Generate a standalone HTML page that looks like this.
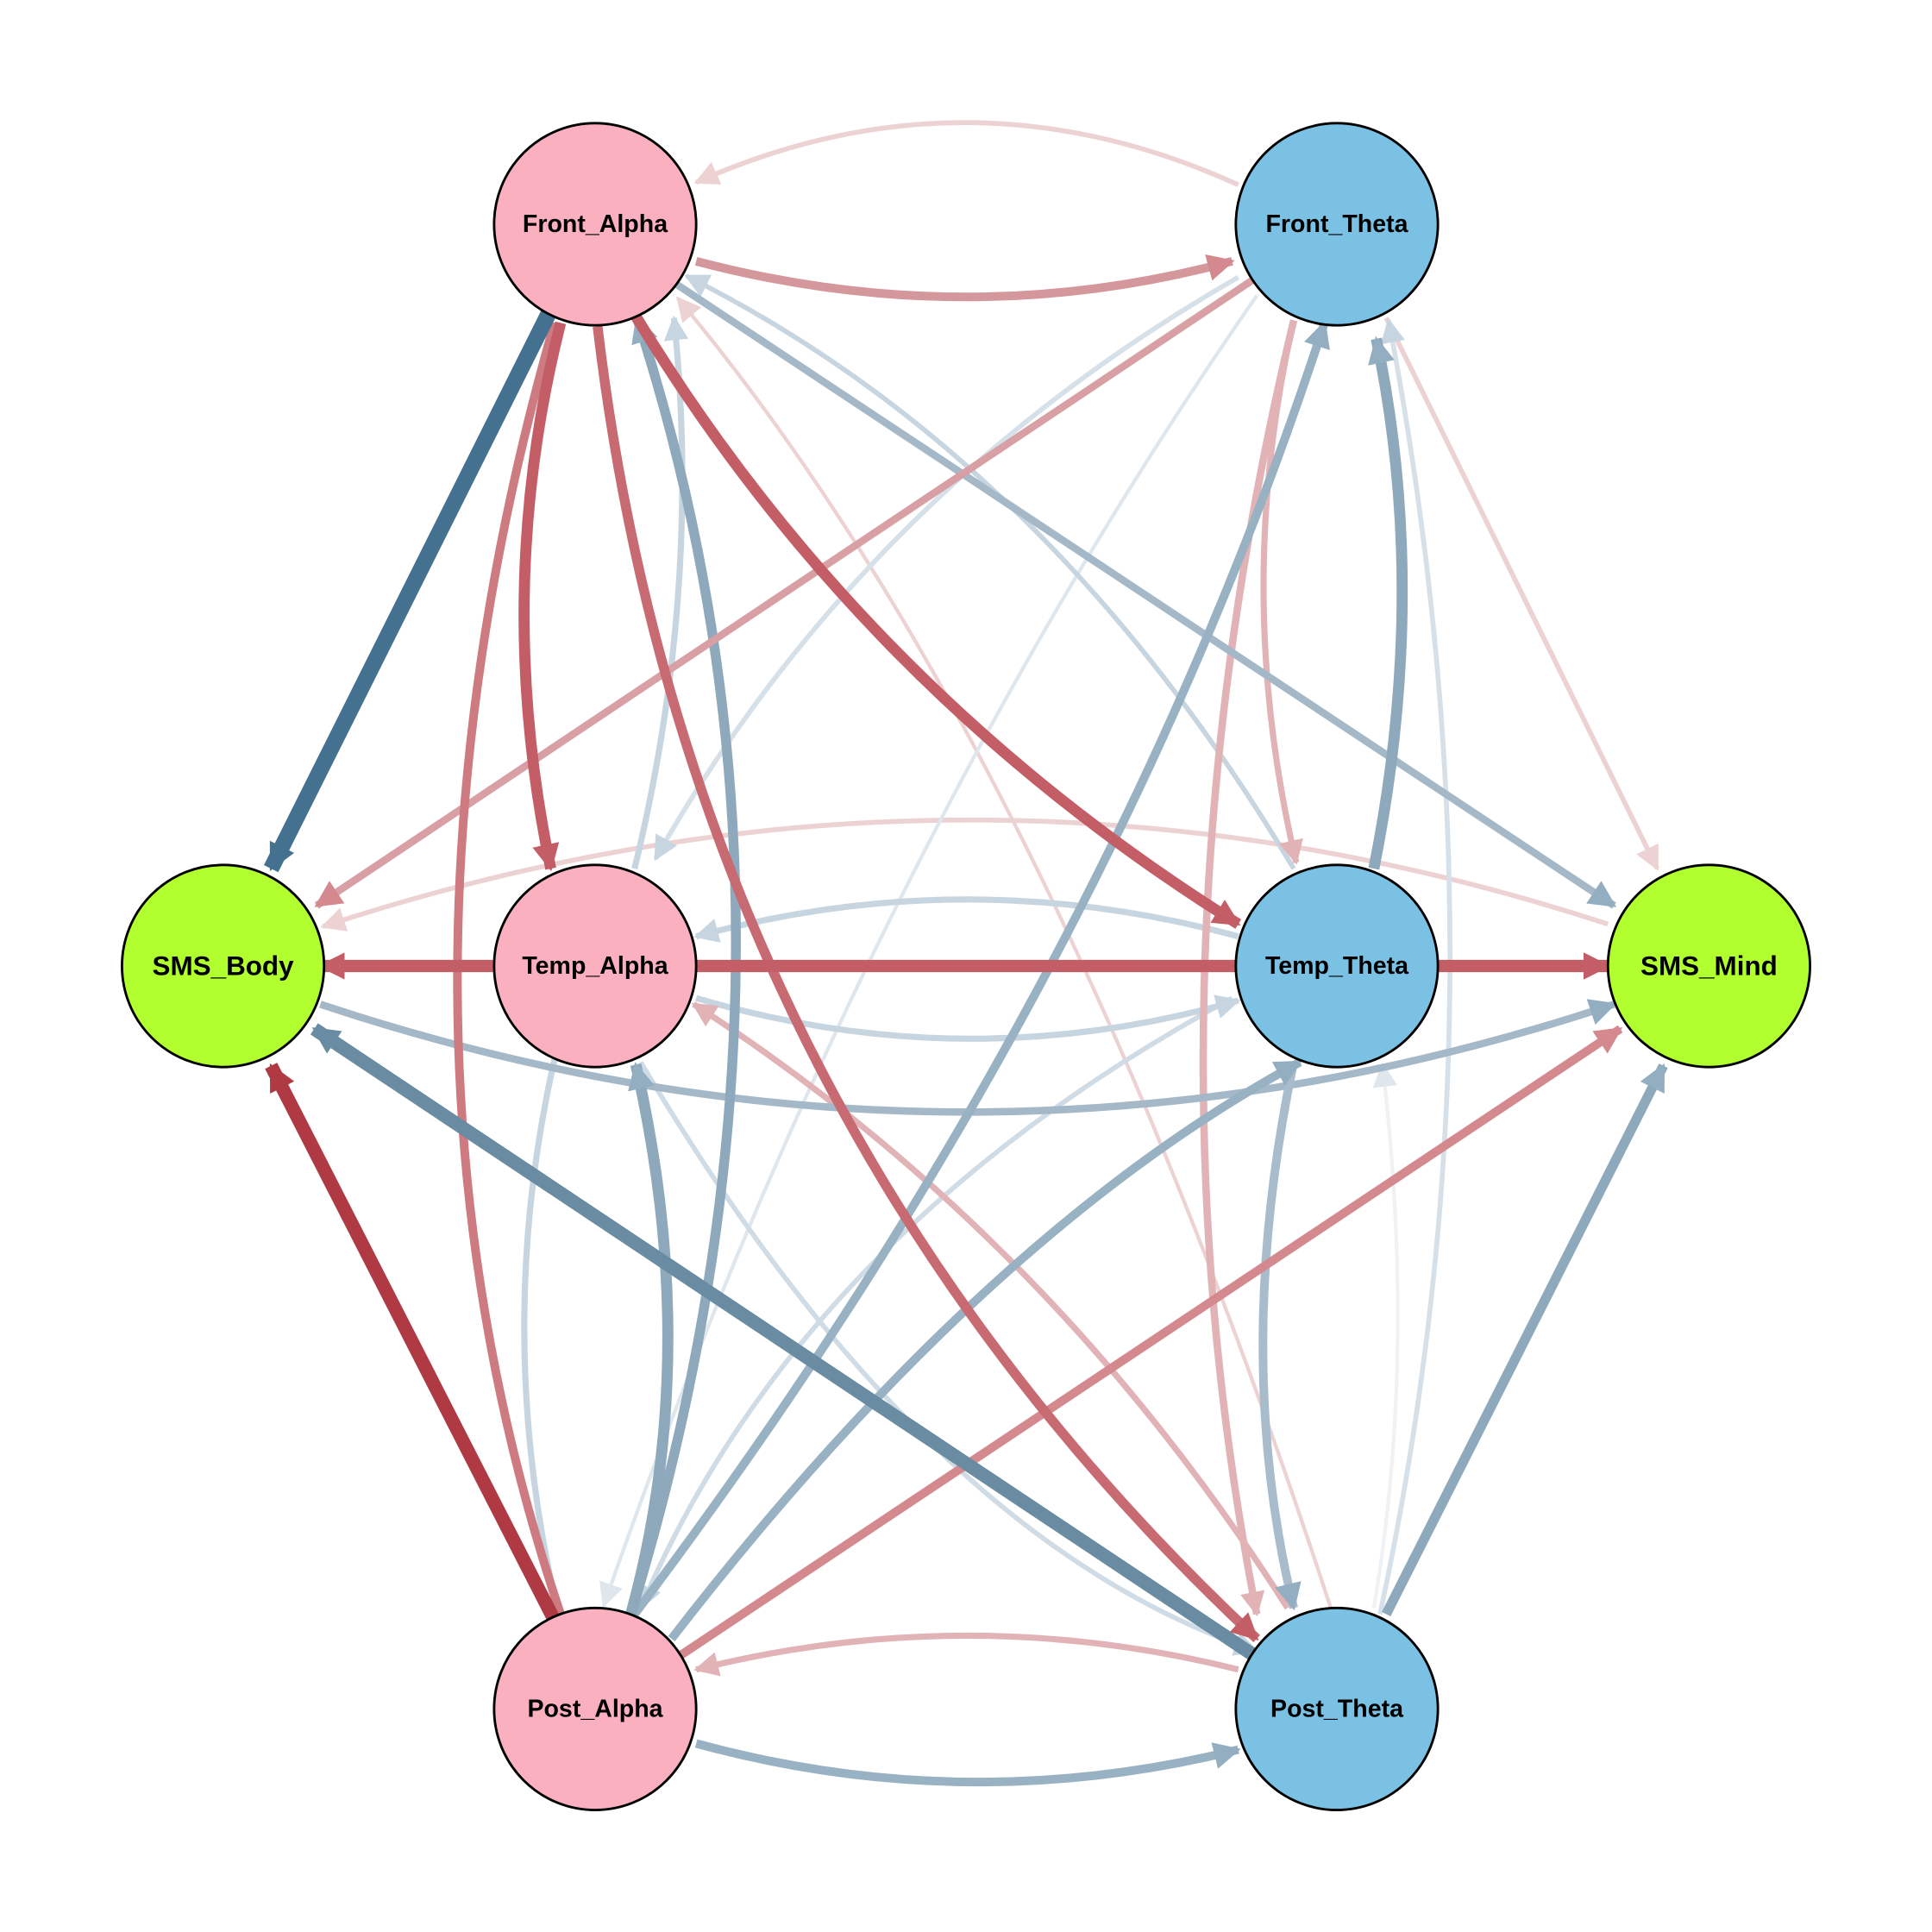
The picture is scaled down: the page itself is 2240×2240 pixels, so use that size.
<!DOCTYPE html>
<html><head><meta charset="utf-8"><style>
html,body{margin:0;padding:0;background:#fff;}
svg{display:block;}
text{font-family:"Liberation Sans",Arial,sans-serif;font-weight:bold;font-size:20px;text-anchor:middle;dominant-baseline:central;fill:#000;}
</style></head><body>
<svg width="2240" height="2240" viewBox="0 0 1568 1568" xmlns="http://www.w3.org/2000/svg">
<defs>
<marker id="m_db" viewBox="0 0 10 10" refX="9" refY="5" markerWidth="22" markerHeight="22" markerUnits="userSpaceOnUse" orient="auto"><path d="M0,0L10,5L0,10z" fill="#44718f"/></marker>
<marker id="m_mb" viewBox="0 0 10 10" refX="9" refY="5" markerWidth="22" markerHeight="22" markerUnits="userSpaceOnUse" orient="auto"><path d="M0,0L10,5L0,10z" fill="#6a8ca3"/></marker>
<marker id="m_b" viewBox="0 0 10 10" refX="9" refY="5" markerWidth="22" markerHeight="22" markerUnits="userSpaceOnUse" orient="auto"><path d="M0,0L10,5L0,10z" fill="#92aec0"/></marker>
<marker id="m_lb" viewBox="0 0 10 10" refX="9" refY="5" markerWidth="20" markerHeight="20" markerUnits="userSpaceOnUse" orient="auto"><path d="M0,0L10,5L0,10z" fill="#c6d5df"/></marker>
<marker id="m_vlb" viewBox="0 0 10 10" refX="9" refY="5" markerWidth="20" markerHeight="20" markerUnits="userSpaceOnUse" orient="auto"><path d="M0,0L10,5L0,10z" fill="#dfe7ed"/></marker>
<marker id="m_dr" viewBox="0 0 10 10" refX="9" refY="5" markerWidth="22" markerHeight="22" markerUnits="userSpaceOnUse" orient="auto"><path d="M0,0L10,5L0,10z" fill="#b03a44"/></marker>
<marker id="m_r" viewBox="0 0 10 10" refX="9" refY="5" markerWidth="22" markerHeight="22" markerUnits="userSpaceOnUse" orient="auto"><path d="M0,0L10,5L0,10z" fill="#c45e66"/></marker>
<marker id="m_p" viewBox="0 0 10 10" refX="9" refY="5" markerWidth="22" markerHeight="22" markerUnits="userSpaceOnUse" orient="auto"><path d="M0,0L10,5L0,10z" fill="#d4898f"/></marker>
<marker id="m_lp" viewBox="0 0 10 10" refX="9" refY="5" markerWidth="20" markerHeight="20" markerUnits="userSpaceOnUse" orient="auto"><path d="M0,0L10,5L0,10z" fill="#e2b3b6"/></marker>
<marker id="m_vlp" viewBox="0 0 10 10" refX="9" refY="5" markerWidth="20" markerHeight="20" markerUnits="userSpaceOnUse" orient="auto"><path d="M0,0L10,5L0,10z" fill="#edd2d3"/></marker>
</defs>
<g fill="none" stroke-linecap="butt">
<path d="M1005,150 Q785,50 565,148" stroke="#edd2d3" stroke-width="4" marker-end="url(#m_vlp)"/>
<path d="M1305,750 Q785,580 262,752" stroke="#edd2d3" stroke-width="4" marker-end="url(#m_vlp)"/>
<path d="M1080,1305 Q850,600 550,242" stroke="#edd2d3" stroke-width="3" marker-end="url(#m_vlp)"/>
<path d="M1125,258 L1345,705" stroke="#edd2d3" stroke-width="4" marker-end="url(#m_vlp)"/>
<path d="M1020,240 Q700,700 490,1303" stroke="#dfe7ed" stroke-width="3" marker-end="url(#m_vlb)"/>
<path d="M1115,1305 Q1150,1100 1122,864" stroke="#eef2f5" stroke-width="3" marker-end="url(#m_vlb)"/>
<path d="M1120,1310 Q1230,800 1127,260" stroke="#d6e0e8" stroke-width="4" marker-end="url(#m_lb)"/>
<path d="M1005,225 Q700,400 532,697" stroke="#d6e0e8" stroke-width="4" marker-end="url(#m_lb)"/>
<path d="M1000,810 Q650,1000 520,1305" stroke="#d0dce5" stroke-width="4" marker-end="url(#m_lb)"/>
<path d="M520,862 Q750,1250 1020,1340" stroke="#d0dce5" stroke-width="4" marker-end="url(#m_lb)"/>
<path d="M1050,705 Q850,370 557,224" stroke="#c6d5df" stroke-width="4" marker-end="url(#m_lb)"/>
<path d="M515,705 Q570,480 547,258" stroke="#c6d5df" stroke-width="5" marker-end="url(#m_lb)"/>
<path d="M450,860 Q400,1080 452,1305" stroke="#c6d5df" stroke-width="5"/>
<path d="M1005,760 Q785,700 565,760" stroke="#c6d5df" stroke-width="5" marker-end="url(#m_lb)"/>
<path d="M565,810 Q785,875 1005,812" stroke="#c6d5df" stroke-width="5" marker-end="url(#m_lb)"/>
<path d="M1045,1305 Q850,1000 563,815" stroke="#e2b3b6" stroke-width="5" marker-end="url(#m_lp)"/>
<path d="M1005,1355 Q785,1300 565,1355" stroke="#e2b3b6" stroke-width="5" marker-end="url(#m_lp)"/>
<path d="M1050,260 Q1000,480 1052,700" stroke="#e2b3b6" stroke-width="5" marker-end="url(#m_lp)"/>
<path d="M1050,260 Q920,800 1020,1310" stroke="#e2b3b6" stroke-width="6" marker-end="url(#m_lp)"/>
<path d="M260,815 Q785,990 1310,815" stroke="#a4b8c8" stroke-width="6" marker-end="url(#m_b)"/>
<path d="M548,230 L1310,735" stroke="#a4b8c8" stroke-width="6" marker-end="url(#m_b)"/>
<path d="M1050,862 Q1000,1100 1050,1305" stroke="#a9bccb" stroke-width="7" marker-end="url(#m_b)"/>
<path d="M565,1415 Q785,1475 1005,1420" stroke="#98b2c3" stroke-width="7" marker-end="url(#m_b)"/>
<path d="M545,1330 Q800,1000 1055,862" stroke="#98b2c3" stroke-width="7" marker-end="url(#m_b)"/>
<path d="M515,1310 Q900,800 1075,262" stroke="#98b2c3" stroke-width="7" marker-end="url(#m_b)"/>
<path d="M1125,1310 L1350,865" stroke="#8ea9bc" stroke-width="8" marker-end="url(#m_b)"/>
<path d="M1115,705 Q1160,480 1117,275" stroke="#8ea9bc" stroke-width="9" marker-end="url(#m_b)"/>
<path d="M512,1310 Q680,760 517,258" stroke="#8ea9bc" stroke-width="8" marker-end="url(#m_b)"/>
<path d="M512,1310 Q570,1100 516,864" stroke="#8ea9bc" stroke-width="9" marker-end="url(#m_b)"/>
<path d="M565,212 Q785,270 1000,212" stroke="#d4989c" stroke-width="7" marker-end="url(#m_p)"/>
<path d="M1020,225 L257,735" stroke="#d8a0a4" stroke-width="6" marker-end="url(#m_p)"/>
<path d="M550,1345 L1315,835" stroke="#d4898f" stroke-width="7" marker-end="url(#m_p)"/>
<path d="M450,262 Q290,820 455,1310" stroke="#cd7a80" stroke-width="7"/>
<path d="M1020,1345 L255,835" stroke="#6a8ca3" stroke-width="11" marker-end="url(#m_mb)"/>
<path d="M445,255 L220,705" stroke="#44718f" stroke-width="13" marker-end="url(#m_db)"/>
<path d="M450,1315 L220,865" stroke="#b03a44" stroke-width="11" marker-end="url(#m_dr)"/>
<path d="M455,262 Q400,480 447,705" stroke="#c45e66" stroke-width="9" marker-end="url(#m_r)"/>
<path d="M485,265 Q560,900 1020,1330" stroke="#c86a71" stroke-width="8" marker-end="url(#m_r)"/>
<path d="M515,255 Q700,560 1005,750" stroke="#c45e66" stroke-width="9" marker-end="url(#m_r)"/>
<path d="M400,784 L260,784" stroke="#c45e66" stroke-width="10" marker-end="url(#m_r)"/>
<path d="M565,784 L1305,784" stroke="#c45e66" stroke-width="10" marker-end="url(#m_r)"/>
</g>
<g stroke="#000" stroke-width="2">
<circle cx="483" cy="182" r="82" fill="#fbb0c0"/>
<circle cx="1085" cy="182" r="82" fill="#7bc1e3"/>
<circle cx="181" cy="784" r="82" fill="#b2ff2f"/>
<circle cx="483" cy="784" r="82" fill="#fbb0c0"/>
<circle cx="1085" cy="784" r="82" fill="#7bc1e3"/>
<circle cx="1387" cy="784" r="82" fill="#b2ff2f"/>
<circle cx="483" cy="1387" r="82" fill="#fbb0c0"/>
<circle cx="1085" cy="1387" r="82" fill="#7bc1e3"/>
</g>
<text x="483" y="182">Front_Alpha</text>
<text x="1085" y="182">Front_Theta</text>
<text x="181" y="784" style="font-size:22px">SMS_Body</text>
<text x="483" y="784">Temp_Alpha</text>
<text x="1085" y="784">Temp_Theta</text>
<text x="1387" y="784" style="font-size:22px">SMS_Mind</text>
<text x="483" y="1387">Post_Alpha</text>
<text x="1085" y="1387">Post_Theta</text>
</svg>
</body></html>
